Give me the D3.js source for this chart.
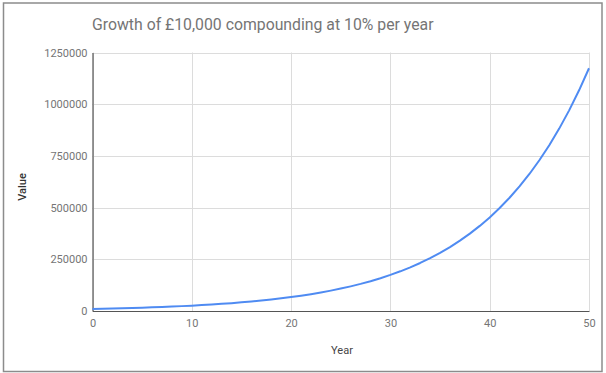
<!DOCTYPE html>
<html>
<head>
<meta charset="utf-8">
<script src="https://cdn.jsdelivr.net/npm/d3@7"></script>
<style>
  html, body { margin: 0; padding: 0; background: #fff; }
  svg { display: block; font-family: Roboto, Arial, sans-serif; }
</style>
</head>
<body>
<svg></svg>
<script>
// value of £10,000 at the end of each year
let years = d3.range(0, 51)
let values = [
  10000, 11000, 12100, 13310, 14641, 16105, 17716, 19487, 21436, 23579,
  25937, 28531, 31384, 34523, 37975, 41772, 45950, 50545, 55599, 61159,
  67275, 74002, 81403, 89543, 98497, 108347, 119182, 131100, 144210, 158631,
  174494, 191943, 211138, 232252, 255477, 281024, 309127, 340039, 374043, 411448,
  452593, 497852, 547637, 602401, 662641, 728905, 801795, 881975, 970172, 1067190,
  1173909]
let xTicks = [0, 10, 20, 30, 40, 50]
let yTicks = [0, 250000, 500000, 750000, 1000000, 1250000]

let width = 606
let height = 373
let margin = {top: 52.5, right: 17, bottom: 62, left: 92.5}

let svg = d3.select('svg')
  .attr('width', width)
  .attr('height', height)

// outer frame
svg.append('rect')
  .attr('x', 3.5)
  .attr('y', 3)
  .attr('width', 598.5)
  .attr('height', 368.5)
  .attr('fill', '#fff')
  .attr('stroke', '#8c8c8c')
  .attr('stroke-width', 1.5)

let x = d3.scaleLinear()
  .domain([0, 50])
  .range([margin.left, width - margin.right])

let y = d3.scaleLinear()
  .domain([0, 1250000])
  .range([height - margin.bottom, margin.top])

// gridlines
let grid = svg.append('g')
grid.selectAll('.gy')
  .data(yTicks)
  .enter().append('line')
  .attr('x1', x(0))
  .attr('x2', x(50))
  .attr('y1', d => Math.round(y(d)) + 0.5)
  .attr('y2', d => Math.round(y(d)) + 0.5)
  .attr('stroke', '#dcdcdc')
grid.selectAll('.gx')
  .data(xTicks)
  .enter().append('line')
  .attr('x1', d => Math.round(x(d)) + 0.5)
  .attr('x2', d => Math.round(x(d)) + 0.5)
  .attr('y1', y(0))
  .attr('y2', y(1250000))
  .attr('stroke', '#dcdcdc')

// axes
let yAxis = svg.append('g')
  .attr('transform', 'translate(' + x(0) + ',0)')
  .call(d3.axisLeft(y).tickValues(yTicks).tickSize(0).tickPadding(5).tickFormat(d3.format('d')))
let xAxis = svg.append('g')
  .attr('transform', 'translate(0,' + y(0) + ')')
  .call(d3.axisBottom(x).tickValues(xTicks).tickSize(0).tickPadding(8))

for (let a of [xAxis, yAxis]) {
  a.select('.domain').attr('stroke', '#555').attr('stroke-width', 1.2)
  a.selectAll('text')
    .attr('fill', '#757575')
    .style('font-size', '11px')
    .style('font-family', 'Roboto, Arial, sans-serif')
}

// the curve
svg.append('path')
  .datum(years)
  .attr('fill', 'none')
  .attr('stroke', '#4f8bf2')
  .attr('stroke-width', 2)
  .attr('stroke-linejoin', 'round')
  .attr('d', d3.line()
    .x(d => x(d))
    .y(d => y(values[d])))

// title and axis titles
svg.append('text')
  .attr('x', 92)
  .attr('y', 30)
  .attr('fill', '#757575')
  .style('font-size', '15.8px')
  .text('Growth of £10,000 compounding at 10% per year')

svg.append('text')
  .attr('transform', 'translate(26,' + 187 + ') rotate(-90)')
  .attr('text-anchor', 'middle')
  .attr('fill', '#333')
  .style('font-size', '11px')
  .style('font-weight', 500)
  .text('Value')

svg.append('text')
  .attr('x', 342)
  .attr('y', 354)
  .attr('text-anchor', 'middle')
  .attr('fill', '#444')
  .style('font-size', '11px')
  .text('Year')
</script>
</body>
</html>
